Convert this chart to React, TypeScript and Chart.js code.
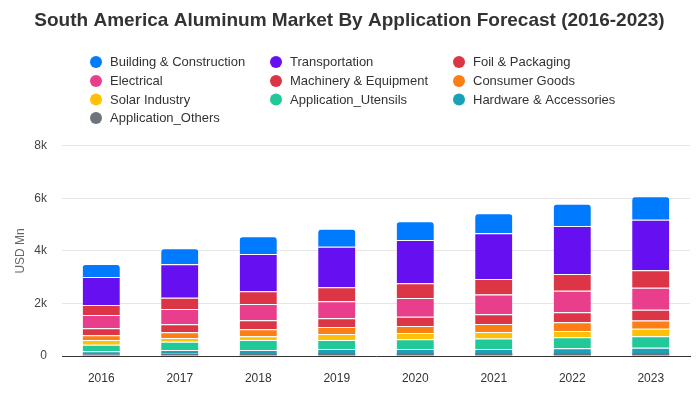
import React, { useEffect, useRef } from "react";
import { Chart, registerables } from "chart.js";

Chart.register(...registerables);

const years = ["2016", "2017", "2018", "2019", "2020", "2021", "2022", "2023"];
const building = [495, 610, 680, 690, 710, 760, 840, 890];
const transportation = [1065, 1270, 1420, 1535, 1650, 1740, 1830, 1930];
const foil = [380, 430, 485, 535, 560, 585, 635, 660];
const electrical = [505, 585, 610, 650, 710, 760, 820, 840];
const machinery = [265, 305, 345, 330, 355, 370, 380, 410];
const consumer = [180, 215, 265, 265, 265, 305, 330, 315];
const solar = [180, 140, 150, 230, 240, 240, 240, 280];
const utensils = [250, 315, 380, 345, 370, 405, 420, 440];
const hardware = [115, 140, 150, 150, 150, 150, 180, 200];
const others = [65, 90, 75, 115, 115, 115, 115, 115];

const seriesNames = [
  "Building & Construction",
  "Transportation",
  "Foil & Packaging",
  "Electrical",
  "Machinery & Equipment",
  "Consumer Goods",
  "Solar Industry",
  "Application_Utensils",
  "Hardware & Accessories",
  "Application_Others",
];
const seriesValues = [building, transportation, foil, electrical, machinery, consumer, solar, utensils, hardware, others];
const seriesColors = ["#007bff", "#6610f2", "#dc3545", "#e83e8c", "#dc3545", "#fd7e14", "#ffc107", "#20c997", "#17a2b8", "#6c757d"];

const FONT = "'Liberation Sans', Arial, Helvetica, sans-serif";

const legendPlugin = {
  id: "gridLegend",
  afterDraw(chart: any) {
    const ctx = chart.ctx;
    const colX = [96, 276, 459];
    const rowY = [62, 81, 99.5, 118];
    ctx.save();
    ctx.font = `13px ${FONT}`;
    ctx.textBaseline = "middle";
    ctx.textAlign = "left";
    seriesNames.forEach((name, i) => {
      const c = i % 3;
      const r = Math.floor(i / 3);
      const x = colX[c];
      const y = rowY[r];
      ctx.beginPath();
      ctx.fillStyle = seriesColors[i];
      ctx.arc(x, y, 6, 0, Math.PI * 2);
      ctx.fill();
      ctx.fillStyle = "#333";
      ctx.fillText(name, x + 14, y + 0.5);
    });
    ctx.restore();
  },
};

export default function App() {
  const ref = useRef<HTMLCanvasElement>(null);
  useEffect(() => {
    document.body.style.margin = "0";
    const n = seriesNames.length;
    const datasets = [] as any[];
    for (let k = n - 1; k >= 0; k--) {
      datasets.push({
        label: seriesNames[k],
        data: seriesValues[k],
        backgroundColor: seriesColors[k],
        borderColor: "#ffffff",
        borderWidth: k === n - 1 ? 0 : { top: 1, left: 0, right: 0, bottom: 0 },
        borderSkipped: "start",
        borderRadius: k === 0 ? 4 : 0,
        barPercentage: 0.6,
        categoryPercentage: 0.79,
      });
    }
    const chart = new Chart(ref.current!, {
      type: "bar",
      data: { labels: years, datasets },
      options: {
        animation: false,
        responsive: false,
        layout: { padding: { left: 9, right: 10, top: 0, bottom: 14 } },
        plugins: {
          legend: { display: false },
          tooltip: { enabled: false },
          title: {
            display: true,
            text: "South America Aluminum Market By Application Forecast (2016-2023)",
            color: "#333",
            font: { family: FONT, size: 19, weight: "bold" },
            padding: { top: 9, bottom: 114 },
          },
        },
        scales: {
          x: {
            stacked: true,
            grid: { display: false, drawTicks: false },
            border: { display: true, color: "#333", width: 1 },
            ticks: { color: "#333", font: { family: FONT, size: 12 }, padding: 15 },
            afterFit: (s: any) => {
              s.height = 30;
            },
          },
          y: {
            stacked: true,
            min: 0,
            max: 8000,
            grid: { color: "#e6e6e6", drawTicks: false },
            border: { display: false },
            title: { display: true, text: "USD Mn", color: "#666", font: { family: FONT, size: 12 } },
            ticks: {
              stepSize: 2000,
              color: "#444",
              padding: 15,
              font: { family: FONT, size: 12 },
              callback: (v: any) => (v === 0 ? "0" : v / 1000 + "k"),
            },
            afterFit: (s: any) => {
              s.width = 53;
            },
          },
        },
      },
      plugins: [legendPlugin],
    });
    return () => chart.destroy();
  }, []);
  return (
    <div style={{ width: 700, height: 400 }}>
      <canvas ref={ref} width={700} height={400} style={{ display: "block" }} />
    </div>
  );
}
